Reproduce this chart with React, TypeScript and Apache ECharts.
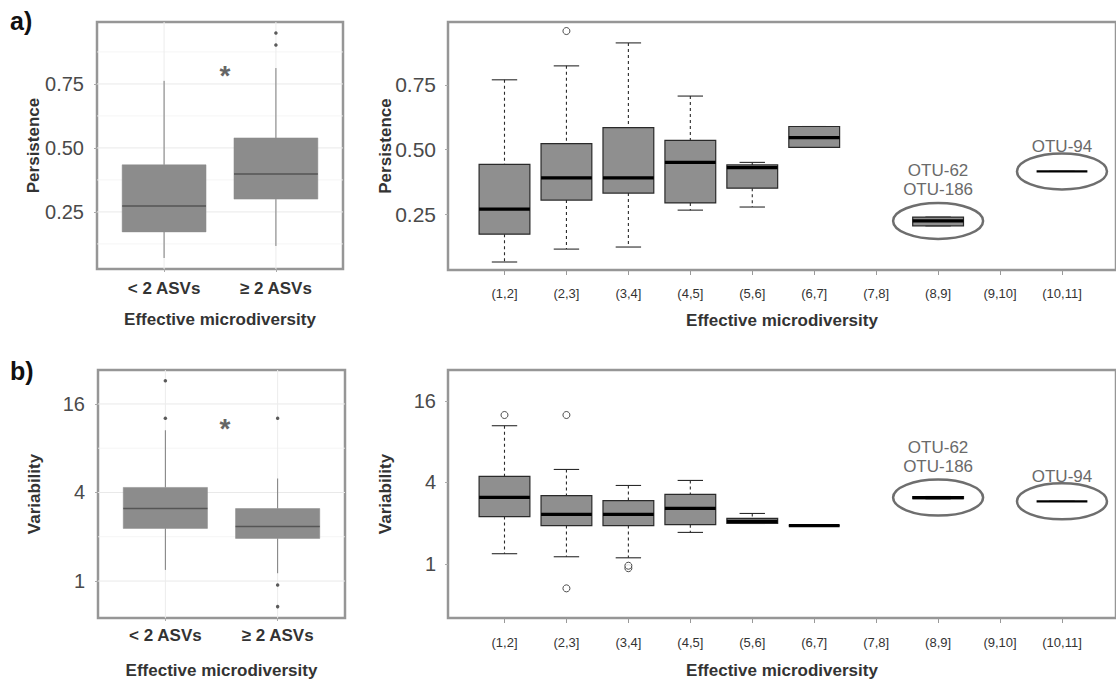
import React, { useEffect, useRef } from "react";
import * as echarts from "echarts";

// ---------- data ----------
const groupCats = ["< 2 ASVs", "≥ 2 ASVs"];
const binCats = ["(1,2]", "(2,3]", "(3,4]", "(4,5]", "(5,6]", "(6,7]", "(7,8]", "(8,9]", "(9,10]", "(10,11]"];

const persTicks = [0.25, 0.5, 0.75];
const persMinorGrid = [0.125, 0.375, 0.625, 0.875];
const varTicks = [1, 4, 16];
const varMinorGrid = [2, 8];

// [min, q1, median, q3, max]
const persGroupStats = [
  [0.07, 0.172, 0.273, 0.434, 0.762],
  [0.117, 0.3, 0.398, 0.539, 0.812],
];
const persGroupOutliers = [[], [0.902, 0.949]];

const persBinStats: (number[] | null)[] = [
  [0.064, 0.172, 0.269, 0.442, 0.77],
  [0.114, 0.304, 0.39, 0.523, 0.824],
  [0.122, 0.331, 0.39, 0.585, 0.913],
  [0.265, 0.293, 0.45, 0.535, 0.707],
  [0.277, 0.35, 0.43, 0.44, 0.45],
  [0.508, 0.508, 0.546, 0.589, 0.589],
  null,
  [0.204, 0.204, 0.223, 0.238, 0.238],
  null,
  [0.415, 0.415, 0.415, 0.415, 0.415],
];
const persBinOutliers = [[], [0.959], [], [], [], [], [], [], [], []];

const varGroupStats = [
  [1.19, 2.28, 3.11, 4.33, 10.6],
  [1.13, 1.95, 2.35, 3.11, 4.98],
];
const varGroupOutliers = [[12.8, 23], [0.67, 0.94, 12.8]];

const varBinStats: (number[] | null)[] = [
  [1.19, 2.24, 3.1, 4.43, 10.5],
  [1.13, 1.92, 2.32, 3.2, 4.99],
  [1.11, 1.92, 2.32, 2.94, 3.8],
  [1.71, 1.95, 2.57, 3.27, 4.14],
  [1.99, 1.99, 2.06, 2.17, 2.36],
  [1.92, 1.92, 1.92, 1.92, 1.92],
  null,
  [3.03, 3.03, 3.09, 3.15, 3.15],
  null,
  [2.9, 2.9, 2.9, 2.9, 2.9],
];
const varBinOutliers = [[12.6], [0.66, 12.6], [0.93, 0.97], [], [], [], [], [], [], []];

const singleValueBins = ["(10,11]"];
const highlightBins = ["(8,9]", "(10,11]"];
const highlightLabels = [["OTU-62", "OTU-186"], ["OTU-94"]];

// ---------- helpers ----------
const FONT = "Liberation Sans, Arial, Helvetica, sans-serif";
const ident = (v: number) => v;
const L2 = (v: number) => Math.log2(v);

function boxData(stats: (number[] | null)[], tf: (v: number) => number) {
  const out: number[][] = [];
  stats.forEach((s, i) => {
    if (s) out.push([i + 1, ...s.map(tf)]);
  });
  return out;
}
function outlierData(outs: number[][], tf: (v: number) => number) {
  const out: number[][] = [];
  outs.forEach((arr, i) => arr.forEach((v) => out.push([i + 1, tf(v)])));
  return out;
}

type BoxStyle = {
  width: number;
  fill: string;
  border: string;
  borderWidth: number;
  median: string;
  medianWidth: number;
  thinMedianWidth: number;
  whisker: string;
  whiskerWidth: number;
  dash: number[] | null;
  cap: boolean;
};

const makeBoxRender = (s: BoxStyle, cats: string[]) => (params: any, api: any) => {
  const x = api.value(0);
  const pMin = api.coord([x, api.value(1)]);
  const pQ1 = api.coord([x, api.value(2)]);
  const pMed = api.coord([x, api.value(3)]);
  const pQ3 = api.coord([x, api.value(4)]);
  const pMax = api.coord([x, api.value(5)]);
  const cx = pMed[0];
  const w = api.size([s.width, 0])[0];
  const children: any[] = [];
  const wl = (y1: number, y2: number) => ({
    type: "line",
    shape: { x1: cx, y1, x2: cx, y2 },
    style: { stroke: s.whisker, lineWidth: s.whiskerWidth, lineDash: s.dash || undefined },
  });
  if (pMax[1] < pQ3[1] - 0.5) children.push(wl(pMax[1], pQ3[1]));
  if (pMin[1] > pQ1[1] + 0.5) children.push(wl(pQ1[1], pMin[1]));
  if (s.cap) {
    [pMax[1], pMin[1]].forEach((y) =>
      children.push({
        type: "line",
        shape: { x1: cx - w / 4, y1: y, x2: cx + w / 4, y2: y },
        style: { stroke: s.whisker, lineWidth: s.whiskerWidth },
      })
    );
  }
  const single = singleValueBins.includes(cats[x - 1]);
  if (!single) {
    children.push({
      type: "rect",
      shape: { x: cx - w / 2, y: pQ3[1], width: w, height: pQ1[1] - pQ3[1] },
      style: { fill: s.fill, stroke: s.border, lineWidth: s.borderWidth },
    });
  }
  children.push({
    type: "line",
    shape: { x1: cx - w / 2, y1: pMed[1], x2: cx + w / 2, y2: pMed[1] },
    style: { stroke: s.median, lineWidth: single ? s.thinMedianWidth : s.medianWidth },
  });
  return { type: "group", children };
};

const hGridRender = (color: string, width: number) => (params: any, api: any) => {
  const y = api.coord([api.value(0), api.value(1)])[1];
  const cs = params.coordSys;
  return {
    type: "line",
    shape: { x1: cs.x, y1: y, x2: cs.x + cs.width, y2: y },
    style: { stroke: color, lineWidth: width },
  };
};
const vGridRender = (color: string, width: number) => (params: any, api: any) => {
  const x = api.coord([api.value(0), api.value(1)])[0];
  const cs = params.coordSys;
  return {
    type: "line",
    shape: { x1: x, y1: cs.y, x2: x, y2: cs.y + cs.height },
    style: { stroke: color, lineWidth: width },
  };
};

const ellipseRender = (params: any, api: any) => {
  const p = api.coord([api.value(0), api.value(1)]);
  const rx = 45;
  const ry = 18;
  const lines = highlightLabels[params.dataIndex];
  const gap = lines.length > 1 ? 3.5 : -3;
  return {
    type: "group",
    children: [
      {
        type: "ellipse",
        shape: { cx: p[0], cy: p[1], rx, ry },
        style: { fill: "none", stroke: "#6e6e6e", lineWidth: 2.5 },
      },
      {
        type: "text",
        x: p[0],
        y: p[1] - ry - gap,
        style: {
          text: lines.join("\n"),
          fill: "#6a6a6a",
          fontSize: 17,
          lineHeight: 19,
          align: "center",
          verticalAlign: "bottom",
          fontFamily: FONT,
        },
      },
    ],
  };
};

function highlightData(stats: (number[] | null)[], tf: (v: number) => number) {
  return highlightBins.map((b) => {
    const i = binCats.indexOf(b);
    const s = stats[i] as number[];
    return [i + 1, tf(s[2])];
  });
}

const ggStyle: BoxStyle = {
  width: 0.75,
  fill: "#8c8c8c",
  border: "#8a8a8a",
  borderWidth: 0.5,
  median: "#555555",
  medianWidth: 1.6,
  thinMedianWidth: 1.6,
  whisker: "#7d7d7d",
  whiskerWidth: 1,
  dash: null,
  cap: false,
};
const baseStyle: BoxStyle = {
  width: 0.82,
  fill: "#8f8f8f",
  border: "#2a2a2a",
  borderWidth: 1.2,
  median: "#000000",
  medianWidth: 3.2,
  thinMedianWidth: 2.2,
  whisker: "#2a2a2a",
  whiskerWidth: 1.1,
  dash: [3, 3],
  cap: true,
};

export default function App() {
  const ref = useRef<HTMLDivElement>(null);
  useEffect(() => {
    if (!ref.current) return;
    const chart = echarts.init(ref.current, undefined, { renderer: "svg" });

    const gridStyle = { show: true, borderColor: "#969696", borderWidth: 2.5, backgroundColor: "#fff" };
    const nameStyle = { fontSize: 17, fontWeight: "bold" as const, color: "#333", fontFamily: FONT };

    const groupX = (gi: number, margin: number, gap: number) => ({
      gridIndex: gi,
      type: "value",
      min: 0.4,
      max: 2.6,
      axisLine: { show: false, onZero: false },
      splitLine: { show: false },
      axisTick: { show: true, customValues: [1, 2], length: 3, lineStyle: { color: "#aaa" } },
      axisLabel: {
        customValues: [1, 2],
        formatter: (v: number) => groupCats[Math.round(v) - 1],
        fontSize: 17,
        fontWeight: "bold",
        color: "#333",
        margin,
        fontFamily: FONT,
      },
      name: "Effective microdiversity",
      nameLocation: "middle",
      nameGap: gap,
      nameMoveOverlap: false,
      nameTextStyle: nameStyle,
    });
    const binTickVals = binCats.map((_, i) => i + 1);
    const binX = (gi: number, margin: number, gap: number) => ({
      gridIndex: gi,
      type: "value",
      min: 0.088,
      max: 10.872,
      axisLine: { show: false, onZero: false },
      splitLine: { show: false },
      axisTick: { show: true, customValues: binTickVals, length: 5, lineStyle: { color: "#999" } },
      axisLabel: {
        customValues: binTickVals,
        formatter: (v: number) => binCats[Math.round(v) - 1],
        fontSize: 13,
        color: "#333",
        margin,
        fontFamily: FONT,
      },
      name: "Effective microdiversity",
      nameLocation: "middle",
      nameGap: gap,
      nameMoveOverlap: false,
      nameTextStyle: nameStyle,
    });
    const yAx = (
      gi: number,
      min: number,
      max: number,
      ticks: number[],
      fmt: (v: number) => string,
      name: string,
      margin: number,
      gap: number,
      fs: number
    ) => ({
      gridIndex: gi,
      type: "value",
      min,
      max,
      axisLine: { show: false, onZero: false },
      splitLine: { show: false },
      axisTick: { show: true, customValues: ticks, length: 3, lineStyle: { color: "#aaa" } },
      axisLabel: { customValues: ticks, formatter: fmt, fontSize: fs, color: "#4a4a4a", margin, fontFamily: FONT },
      name,
      nameLocation: "middle",
      nameGap: gap,
      nameMoveOverlap: false,
      nameTextStyle: { ...nameStyle, fontSize: 17 },
    });

    const persFmt = (v: number) => v.toFixed(2);
    const varFmt = (v: number) => String(Math.round(Math.pow(2, v)));

    const ggGridSeries = (ai: number, major: number[], minor: number[]) => [
      {
        type: "custom",
        xAxisIndex: ai,
        yAxisIndex: ai,
        z: 1,
        silent: true,
        renderItem: hGridRender("#f3f3f3", 0.8),
        data: minor.map((v) => [1, v]),
      },
      {
        type: "custom",
        xAxisIndex: ai,
        yAxisIndex: ai,
        z: 1,
        silent: true,
        renderItem: hGridRender("#e9e9e9", 1),
        data: major.map((v) => [1, v]),
      },
      {
        type: "custom",
        xAxisIndex: ai,
        yAxisIndex: ai,
        z: 1,
        silent: true,
        renderItem: vGridRender("#ececec", 1),
        data: [1, 2].map((v) => [v, major[0]]),
      },
    ];

    const option: any = {
      animation: false,
      backgroundColor: "#fff",
      grid: [
        { ...gridStyle, left: 97, top: 22, width: 246, height: 247 },
        { ...gridStyle, left: 448, top: 22, width: 674, height: 248 },
        { ...gridStyle, left: 98, top: 370, width: 247, height: 248 },
        { ...gridStyle, left: 448, top: 370, width: 674, height: 248 },
      ],
      xAxis: [groupX(0, 10.5, 41.5), binX(1, 16.5, 41.5), groupX(2, 8.5, 43.5), binX(3, 17.5, 43.5)],
      yAxis: [
        yAx(0, 0.027, 0.992, persTicks, persFmt, "Persistence", 13, 55.5, 20),
        yAx(1, 0.033, 0.994, persTicks, persFmt, "Persistence", 12, 54.5, 21),
        yAx(2, -0.835, 4.767, varTicks.map(L2), varFmt, "Variability", 13, 55.5, 20),
        yAx(3, -1.327, 4.76, varTicks.map(L2), varFmt, "Variability", 12, 54.5, 20),
      ],
      graphic: [
        { type: "text", left: 10, top: 8, style: { text: "a)", fontSize: 25, fontWeight: "bold", fill: "#111", fontFamily: FONT } },
        { type: "text", left: 10, top: 358, style: { text: "b)", fontSize: 25, fontWeight: "bold", fill: "#111", fontFamily: FONT } },
        { type: "text", x: 225, y: 61, style: { text: "*", fontSize: 28, fontWeight: "bold", fill: "#666", align: "center", verticalAlign: "top", fontFamily: FONT } },
        { type: "text", x: 225, y: 414, style: { text: "*", fontSize: 28, fontWeight: "bold", fill: "#666", align: "center", verticalAlign: "top", fontFamily: FONT } },
      ],
      series: [
        // top-left
        ...ggGridSeries(0, persTicks, persMinorGrid),
        {
          type: "custom",
          xAxisIndex: 0,
          yAxisIndex: 0,
          z: 2,
          renderItem: makeBoxRender(ggStyle, groupCats),
          encode: { x: 0, y: [1, 2, 3, 4, 5] },
          data: boxData(persGroupStats, ident),
        },
        {
          type: "scatter",
          xAxisIndex: 0,
          yAxisIndex: 0,
          z: 3,
          symbolSize: 3.5,
          itemStyle: { color: "#333" },
          data: outlierData(persGroupOutliers, ident),
        },
        // top-right
        {
          type: "custom",
          xAxisIndex: 1,
          yAxisIndex: 1,
          z: 2,
          renderItem: makeBoxRender(baseStyle, binCats),
          encode: { x: 0, y: [1, 2, 3, 4, 5] },
          data: boxData(persBinStats, ident),
        },
        {
          type: "scatter",
          xAxisIndex: 1,
          yAxisIndex: 1,
          z: 3,
          symbolSize: 7,
          itemStyle: { color: "#fff", borderColor: "#222", borderWidth: 1 },
          data: outlierData(persBinOutliers, ident),
        },
        {
          type: "custom",
          xAxisIndex: 1,
          yAxisIndex: 1,
          z: 4,
          renderItem: ellipseRender,
          data: highlightData(persBinStats, ident),
        },
        // bottom-left
        ...ggGridSeries(2, varTicks.map(L2), varMinorGrid.map(L2)),
        {
          type: "custom",
          xAxisIndex: 2,
          yAxisIndex: 2,
          z: 2,
          renderItem: makeBoxRender(ggStyle, groupCats),
          encode: { x: 0, y: [1, 2, 3, 4, 5] },
          data: boxData(varGroupStats, L2),
        },
        {
          type: "scatter",
          xAxisIndex: 2,
          yAxisIndex: 2,
          z: 3,
          symbolSize: 3.5,
          itemStyle: { color: "#333" },
          data: outlierData(varGroupOutliers, L2),
        },
        // bottom-right
        {
          type: "custom",
          xAxisIndex: 3,
          yAxisIndex: 3,
          z: 2,
          renderItem: makeBoxRender(baseStyle, binCats),
          encode: { x: 0, y: [1, 2, 3, 4, 5] },
          data: boxData(varBinStats, L2),
        },
        {
          type: "scatter",
          xAxisIndex: 3,
          yAxisIndex: 3,
          z: 3,
          symbolSize: 7,
          itemStyle: { color: "#fff", borderColor: "#222", borderWidth: 1 },
          data: outlierData(varBinOutliers, L2),
        },
        {
          type: "custom",
          xAxisIndex: 3,
          yAxisIndex: 3,
          z: 4,
          renderItem: ellipseRender,
          data: highlightData(varBinStats, L2),
        },
      ],
    };
    chart.setOption(option);
    return () => chart.dispose();
  }, []);
  return (
    <div
      ref={ref}
      style={{ position: "absolute", left: 0, top: 0, width: 1116, height: 682, background: "#fff" }}
    />
  );
}
